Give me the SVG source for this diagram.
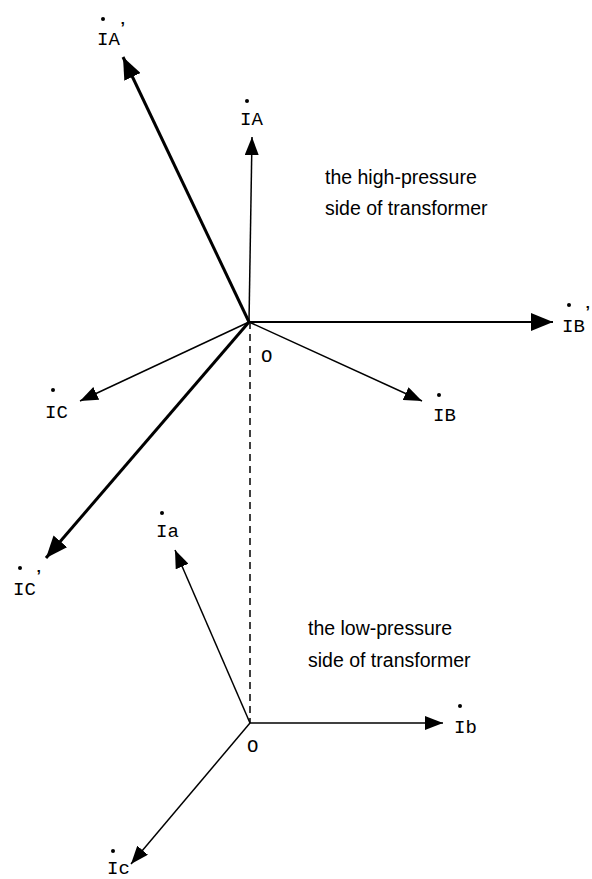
<svg xmlns="http://www.w3.org/2000/svg" width="592" height="879" viewBox="0 0 592 879">
<style>
.thin{stroke:#000;stroke-width:1.5;fill:none}
.med{stroke:#000;stroke-width:2;fill:none}
.thick{stroke:#000;stroke-width:3;fill:none}
.dash{stroke:#000;stroke-width:1.5;fill:none;stroke-dasharray:7,5}
.lbl{font-family:"Liberation Mono",monospace;font-size:19px;fill:#000}
.pr{font-family:"Liberation Sans",Arial,sans-serif;font-size:16px;font-weight:bold;fill:#000}
.txt{font-family:"Liberation Sans",Arial,sans-serif;font-size:19.5px;fill:#000}
.dot{fill:#000}
</style>
<defs>
<marker id="ah" markerUnits="userSpaceOnUse" markerWidth="20" markerHeight="14" refX="18" refY="7" orient="auto">
<path d="M0,0 L18,7 L0,14 z" fill="#000"/>
</marker>
<marker id="ahb" markerUnits="userSpaceOnUse" markerWidth="24" markerHeight="18" refX="22" refY="9" orient="auto">
<path d="M0,0 L22,9 L0,18 z" fill="#000"/>
</marker>
</defs>
<rect width="592" height="879" fill="#fff"/>
<g id="connectors">
<line class="dash" x1="250" y1="322" x2="250" y2="723"/>
<line class="thin" x1="249" y1="322" x2="252" y2="137" marker-end="url(#ah)"/>
<line class="thick" x1="249" y1="322" x2="123" y2="57" marker-end="url(#ahb)"/>
<line class="med" x1="249" y1="322" x2="553" y2="322" marker-end="url(#ahb)"/>
<line class="thin" x1="249" y1="322" x2="422" y2="401" marker-end="url(#ah)"/>
<line class="thin" x1="249" y1="322" x2="80" y2="401" marker-end="url(#ah)"/>
<line class="thick" x1="249" y1="322" x2="46" y2="558" marker-end="url(#ahb)"/>
<line class="thin" x1="250" y1="723" x2="175" y2="550" marker-end="url(#ah)"/>
<line class="thin" x1="250" y1="723" x2="443" y2="723" marker-end="url(#ah)"/>
<line class="thin" x1="250" y1="723" x2="131" y2="864" marker-end="url(#ah)"/>
</g>
<g id="node-IA-prime">
<circle class="dot" cx="103" cy="19" r="2"/>
<text class="lbl" x="97" y="45">IA</text>
<text class="pr" x="120.5" y="34">’</text>
</g>
<g id="node-IA">
<circle class="dot" cx="247" cy="101" r="2"/>
<text class="lbl" x="240" y="125">IA</text>
</g>
<g id="node-IB-prime">
<circle class="dot" cx="569" cy="305" r="2"/>
<text class="lbl" x="562" y="332">IB</text>
<text class="pr" x="585.5" y="318">’</text>
</g>
<g id="node-IB">
<circle class="dot" cx="439" cy="395" r="2"/>
<text class="lbl" x="433" y="421">IB</text>
</g>
<g id="node-IC">
<circle class="dot" cx="53" cy="390" r="2"/>
<text class="lbl" x="45" y="418">IC</text>
</g>
<g id="node-IC-prime">
<circle class="dot" cx="20" cy="568" r="2"/>
<text class="lbl" x="13" y="595">IC</text>
<text class="pr" x="36.5" y="582">’</text>
</g>
<g id="node-O-high">
<text class="lbl" x="261" y="362">O</text>
</g>
<g id="node-Ia">
<circle class="dot" cx="162" cy="513" r="2"/>
<text class="lbl" x="156" y="537">Ia</text>
</g>
<g id="node-Ib">
<circle class="dot" cx="460" cy="706" r="2"/>
<text class="lbl" x="454" y="733">Ib</text>
</g>
<g id="node-Ic">
<circle class="dot" cx="113" cy="851" r="2"/>
<text class="lbl" x="107" y="874">Ic</text>
</g>
<g id="node-O-low">
<text class="lbl" x="247" y="752">O</text>
</g>
<g id="note-high">
<text class="txt" x="325" y="184">the high-pressure</text>
<text class="txt" x="325" y="215">side of transformer</text>
</g>
<g id="note-low">
<text class="txt" x="308" y="635">the low-pressure</text>
<text class="txt" x="308" y="667">side of transformer</text>
</g>
</svg>
